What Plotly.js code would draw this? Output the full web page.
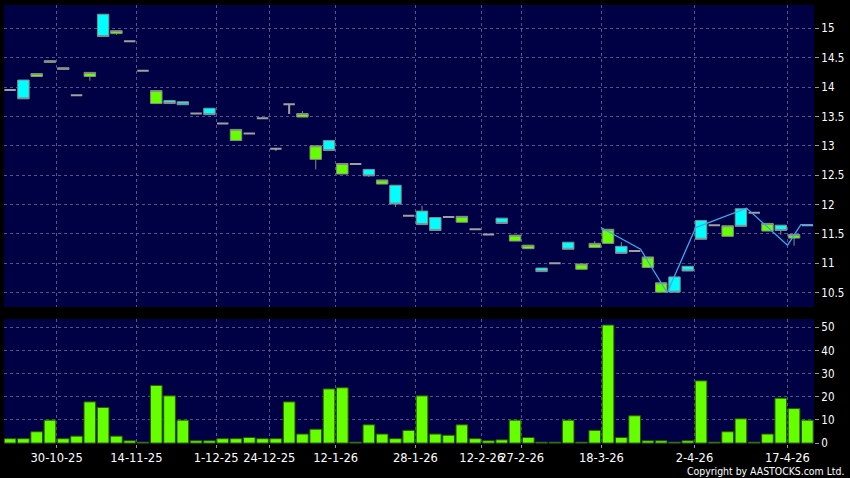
<!DOCTYPE html>
<html><head><meta charset="utf-8">
<script src="https://cdn.plot.ly/plotly-3.0.1.min.js"></script>
<style>html,body{margin:0;padding:0;background:#000;}#chart{width:850px;height:478px;}</style>
</head><body><div id="chart"></div>
<script>
// Daily OHLC (index order, oldest first)
const opens  = [13.95,14.12,14.18,14.42,14.30,13.86,14.18,15.24,14.91,14.78,14.28,13.72,13.77,13.75,13.55,13.64,13.38,13.09,13.21,13.47,12.95,13.71,13.49,12.77,13.09,12.52,12.69,12.60,12.35,12.33,11.81,11.89,11.78,11.79,11.70,11.58,11.49,11.77,11.38,11.25,10.92,11.00,11.36,10.90,11.27,11.34,11.29,11.21,10.93,10.51,10.77,10.95,11.73,11.65,11.46,11.93,11.86,11.55,11.65,11.43,11.65];
const highs  = [13.95,14.12,14.23,14.45,14.33,13.86,14.25,15.24,14.96,14.78,14.28,13.94,13.77,13.75,13.55,13.64,13.38,13.28,13.21,13.47,12.95,13.71,13.59,13.00,13.09,12.70,12.69,12.60,12.42,12.33,11.81,11.98,11.78,11.79,11.80,11.58,11.49,11.77,11.48,11.31,10.92,11.00,11.36,10.99,11.38,11.58,11.36,11.21,11.11,10.67,10.77,10.95,11.73,11.65,11.64,11.93,11.86,11.68,11.65,11.49,11.65];
const lows   = [13.95,13.80,14.18,14.42,14.30,13.86,14.11,14.86,14.89,14.78,14.28,13.72,13.72,13.70,13.55,13.53,13.38,13.09,13.21,13.47,12.92,13.54,13.49,12.60,12.92,12.52,12.69,12.47,12.35,11.96,11.81,11.66,11.56,11.79,11.70,11.58,11.49,11.68,11.38,11.25,10.86,11.00,11.24,10.90,11.27,11.34,11.17,11.21,10.93,10.51,10.51,10.87,11.41,11.65,11.46,11.63,11.86,11.55,11.49,11.30,11.65];
const closes = [13.95,13.80,14.23,14.45,14.33,13.86,14.25,14.86,14.96,14.78,14.28,13.94,13.72,13.70,13.55,13.53,13.38,13.28,13.21,13.47,12.95,13.71,13.55,13.00,12.92,12.70,12.69,12.49,12.42,12.01,11.81,11.66,11.56,11.79,11.80,11.58,11.49,11.68,11.48,11.31,10.86,11.00,11.24,10.99,11.34,11.58,11.17,11.21,11.11,10.67,10.51,10.87,11.41,11.65,11.64,11.63,11.86,11.68,11.56,11.49,11.65];
const volumes = [1.9,1.9,4.9,9.9,1.9,3.0,17.8,15.4,3.0,1.0,0.4,24.9,20.4,9.9,1.0,1.0,1.9,1.9,2.4,1.9,1.9,17.8,3.9,6.0,23.4,23.9,0.4,7.9,3.9,1.9,5.5,20.4,3.9,3.4,7.9,1.9,1.0,1.4,9.9,2.4,0.4,0.4,9.9,0.4,5.5,51.0,2.4,11.8,1.0,1.0,0.4,1.0,26.9,0.4,4.9,10.5,0.4,3.9,19.4,14.9,9.9];
// Overlay line (positions in bar-index units)
const lineX = [44.46,47.45,49.45,51.6,55.42,58.51,59.51,60.4];
const lineY = [11.61,11.24,10.50,11.61,11.94,11.31,11.66,11.66];
// Date axis labels and their positions (between bars)
const tickPos = [3.5,9.5,15.5,19.5,24.5,30.5,35.5,38.5,44.5,51.5,58.5];
const tickLabels = ['30-10-25','14-11-25','1-12-25','24-12-25','12-1-26','28-1-26','12-2-26','27-2-26','18-3-26','2-4-26','17-4-26'];
const priceTicks = [10.5,11,11.5,12,12.5,13,13.5,14,14.5,15];
const volTicks = [0,10,20,30,40,50];

const UP = '#66ff00', DOWN = '#00ffff', FLAT = '#a0a0a0', EDGE = '#8a8a8a';
const idx = opens.map((_, i) => i);
function subset(cond){
  const s = {x:[],open:[],high:[],low:[],close:[]};
  idx.forEach(i => { if (cond(i)) { s.x.push(i); s.open.push(opens[i]); s.high.push(highs[i]); s.low.push(lows[i]); s.close.push(closes[i]); } });
  return s;
}
function candle(s, fill, lc, lw){
  const st = {line:{color:lc, width:lw}, fillcolor:fill};
  return Object.assign({type:'candlestick', xaxis:'x', yaxis:'y', increasing:st, decreasing:st, whiskerwidth:0, hoverinfo:'skip'}, s);
}
const upS = subset(i => closes[i] > opens[i]);
const dnS = subset(i => closes[i] < opens[i]);
const flS = subset(i => closes[i] === opens[i]);

const gridColor = '#55558a';
const tickFontY = {family:'DejaVu Sans Condensed, DejaVu Sans', size:11.5, color:'#ffffff'};
const tickFontX = {family:'DejaVu Sans', size:11.5, color:'#ffffff'};

const data = [
  candle(flS, FLAT, FLAT, 2),
  candle(upS, UP, EDGE, 1),
  candle(dnS, DOWN, EDGE, 1),
  {type:'scatter', mode:'lines', x:lineX, y:lineY, xaxis:'x', yaxis:'y', line:{color:'#3fa6ea', width:1.3}, hoverinfo:'skip'},
  {type:'bar', x:idx, y:volumes, xaxis:'x2', yaxis:'y2', marker:{color:UP, line:{color:'#2a5800', width:1}}, hoverinfo:'skip'}
];

const layout = {
  width:850, height:478,
  paper_bgcolor:'#000000', plot_bgcolor:'#000044',
  margin:{l:4, r:36, t:5, b:34},
  showlegend:false,
  boxgap:0.14, boxgroupgap:0, bargap:0.12,
  xaxis:{domain:[0,1], anchor:'y', range:[-0.46,60.5], tickmode:'array', tickvals:tickPos, ticktext:tickLabels,
         showticklabels:false, ticks:'', showgrid:true, gridcolor:gridColor, griddash:'dot', gridwidth:1,
         zeroline:false, showline:false, rangeslider:{visible:false}},
  yaxis:{domain:[0.312,1], anchor:'x', range:[10.257,15.397], side:'right', tickmode:'array', tickvals:priceTicks,
         ticks:'outside', ticklen:4, tickcolor:'#999999', tickfont:tickFontY, showgrid:true, gridcolor:gridColor,
         griddash:'dot', zeroline:false, showline:false},
  xaxis2:{domain:[0,1], anchor:'y2', range:[-0.46,60.5], tickmode:'array', tickvals:tickPos, ticktext:tickLabels,
          tickangle:0, ticks:'outside', ticklen:3, tickcolor:'#999999', tickfont:tickFontX, showgrid:true,
          gridcolor:gridColor, griddash:'dot', zeroline:false, showline:false},
  yaxis2:{domain:[0,0.2847], anchor:'x2', range:[-0.4,53.6], side:'right', tickmode:'array', tickvals:volTicks,
          ticks:'outside', ticklen:4, tickcolor:'#999999', tickfont:tickFontY, showgrid:true, gridcolor:gridColor,
          griddash:'dot', zeroline:false, showline:false},
  annotations:[{text:'Copyright by AASTOCKS.com Ltd.', xref:'paper', yref:'paper', x:1.039, y:-0.061,
                xanchor:'right', yanchor:'middle', showarrow:false,
                font:{family:'DejaVu Sans Condensed, DejaVu Sans', size:10.4, color:'#ffffff'}}]
};
Plotly.newPlot('chart', data, layout, {displayModeBar:false, staticPlot:true});
</script>
</body></html>
